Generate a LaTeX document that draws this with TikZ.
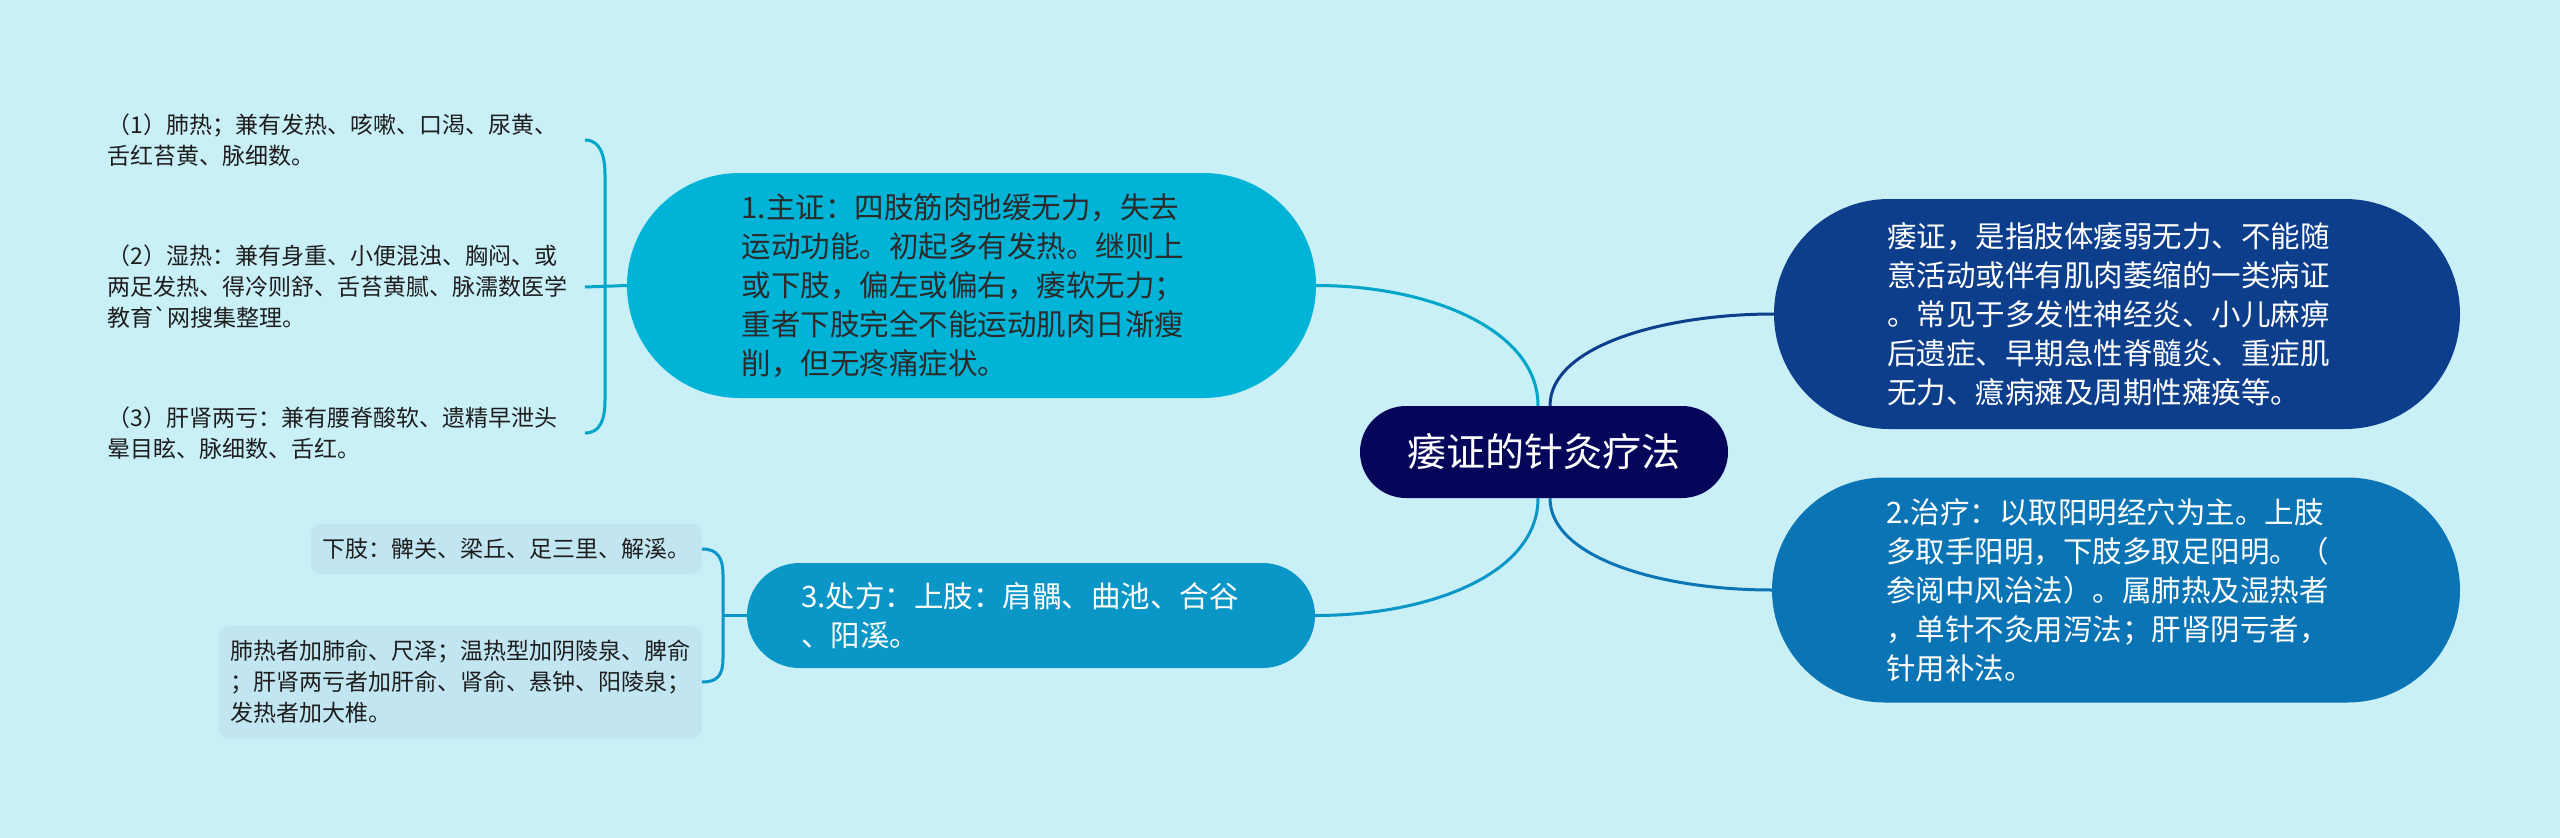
\documentclass[tikz,border=0pt]{standalone}
\usepackage{fontspec}
\setmainfont{Noto Sans CJK SC}
\usetikzlibrary{shapes.misc}

\definecolor{bgcyan}{HTML}{C9EFF7}
\definecolor{titlenavy}{HTML}{05055A}
\definecolor{zhengcyan}{HTML}{00B4D8}
\definecolor{dingyiblue}{HTML}{0D3E8C}
\definecolor{zhiliaoblue}{HTML}{0A74B5}
\definecolor{chufangblue}{HTML}{0B96C8}
\definecolor{leafgrey}{HTML}{C2E6F1}
\definecolor{inkgrey}{HTML}{2B2B2B}
\definecolor{leafink}{HTML}{1E1E1E}

\begin{document}
\begin{tikzpicture}[x=1pt, y=-1pt,
    bubble/.style={rounded rectangle, inner sep=0pt, text width=460pt, align=left,
        font=\fontsize{29.5}{39}\selectfont},
    leafbox/.style={fill=leafgrey, rounded corners=10pt, inner xsep=11.5pt, inner ysep=14.5pt,
        align=left, text=leafink, font=\fontsize{23}{31}\selectfont, anchor=east},
    leafnote/.style={inner xsep=11pt, text width=466pt, align=left, text=leafink,
        font=\fontsize{23}{31}\selectfont, anchor=east},
    wire/.style={line width=3pt}
]
    \fill[bgcyan] (0,0) rectangle (2560,838);

    \node[rounded rectangle, fill=titlenavy, text=white, inner sep=0pt, minimum width=368pt,
        minimum height=92pt, font=\fontsize{39}{39}\selectfont] (title) at (1544,452) {痿证的针灸疗法};

    \node[bubble, fill=zhengcyan, text=inkgrey, minimum width=689pt, minimum height=225pt] (zheng) at (971.5,285.5)
        {1.主证：四肢筋肉弛缓无力，失去\\运动功能。初起多有发热。继则上\\或下肢，偏左或偏右，痿软无力；\\重者下肢完全不能运动肌肉日渐瘦\\削，但无疼痛症状。};
    \node[bubble, fill=dingyiblue, text=white, minimum width=686pt, minimum height=230pt] (dingyi) at (2117,314)
        {痿证，是指肢体痿弱无力、不能随\\意活动或伴有肌肉萎缩的一类病证\\。常见于多发性神经炎、小儿麻痹\\后遗症、早期急性脊髓炎、重症肌\\无力、癔病瘫及周期性瘫痪等。};
    \node[bubble, fill=zhiliaoblue, text=white, minimum width=688pt, minimum height=225pt] (zhiliao) at (2116,590)
        {2.治疗：以取阳明经穴为主。上肢\\多取手阳明，下肢多取足阳明。（\\参阅中风治法）。属肺热及湿热者\\，单针不灸用泻法；肝肾阴亏者，\\针用补法。};
    \node[bubble, fill=chufangblue, text=white, minimum width=568pt, minimum height=105pt] (chufang) at (1031,615.5)
        {3.处方：上肢：肩髃、曲池、合谷\\、阳溪。};

    \node[leafnote] (feire) at (585,140) {（1）肺热；兼有发热、咳嗽、口渴、尿黄、\\舌红苔黄、脉细数。};
    \node[leafnote] (shire) at (585,287) {（2）湿热：兼有身重、小便混浊、胸闷、或\\两足发热、得冷则舒、舌苔黄腻、脉濡数医学\\教育\textasciigrave 网搜集整理。};
    \node[leafnote] (ganshen) at (585,433) {（3）肝肾两亏：兼有腰脊酸软、遗精早泄头\\晕目眩、脉细数、舌红。};

    \node[leafbox] (xiazhi) at (702,549) {下肢：髀关、梁丘、足三里、解溪。};
    \node[leafbox] (jiajian) at (702,682) {肺热者加肺俞、尺泽；温热型加阴陵泉、脾俞\\；肝肾两亏者加肝俞、肾俞、悬钟、阳陵泉；\\发热者加大椎。};

    \draw[wire, color=zhengcyan!92!black] ([xshift=-6pt]title.north) .. controls +(0,-76) and +(114,0) .. (zheng.east);
    \draw[wire, color=chufangblue] ([xshift=-6pt]title.south) .. controls +(0,76) and +(114,0) .. (chufang.east);
    \draw[wire, color=dingyiblue] ([xshift=6pt]title.north) .. controls +(0,-60) and +(-110,0) .. (dingyi.west);
    \draw[wire, color=zhiliaoblue] ([xshift=6pt]title.south) .. controls +(0,60) and +(-110,0) .. (zhiliao.west);

    \coordinate (zbtop) at (605,175);
    \coordinate (zbbot) at (605,400);
    \draw[wire, color=zhengcyan!92!black] (feire.east) .. controls +(15,0) and +(0,-20) .. (zbtop) -- (zbbot)
        .. controls +(0,20) and +(15,0) .. (ganshen.east);
    \draw[wire, color=zhengcyan!92!black] (shire.east) -- (zheng.west);

    \coordinate (cbtop) at (723,575);
    \coordinate (cbbot) at (723,658);
    \coordinate (cbmid) at (723,615.5);
    \draw[wire, color=chufangblue] (xiazhi.east) .. controls +(15,0) and +(0,-18) .. (cbtop) -- (cbbot)
        .. controls +(0,18) and +(15,0) .. (jiajian.east);
    \draw[wire, color=chufangblue] (cbmid) -- (chufang.west);
\end{tikzpicture}
\end{document}
